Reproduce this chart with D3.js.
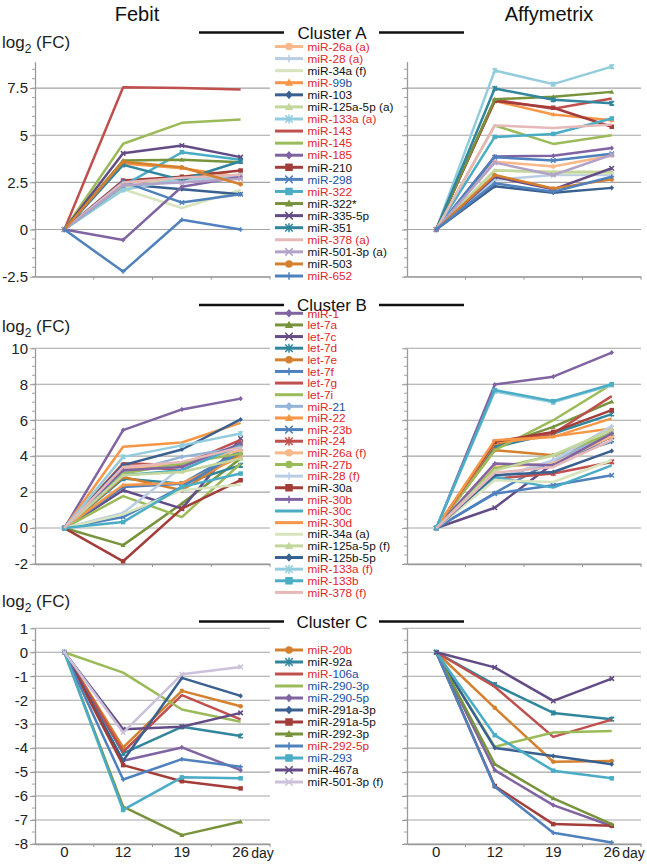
<!DOCTYPE html>
<html><head><meta charset="utf-8">
<script src="https://cdn.jsdelivr.net/npm/d3@7"></script>
<style>body{margin:0;background:#fff} svg{display:block;font-family:Arial,"Liberation Sans",sans-serif}</style>
</head><body><svg id="c" width="647" height="864"></svg>
<script>
// ---------------- DATA ----------------
const days = ["0", "12", "19", "26"];
const ticksA = [-2.5, 0, 2.5, 5, 7.5];
const ticksB = [-2, 0, 2, 4, 6, 8, 10];
const ticksC = [-8, -7, -6, -5, -4, -3, -2, -1, 0, 1];

const namesA = ["miR-26a (a)", "miR-28 (a)", "miR-34a (f)", "miR-99b", "miR-103", "miR-125a-5p (a)", "miR-133a (a)", "miR-143", "miR-145", "miR-185", "miR-210", "miR-298", "miR-322", "miR-322*", "miR-335-5p", "miR-351", "miR-378 (a)", "miR-501-3p (a)", "miR-503", "miR-652"];
const febitA = [
  [0, 2.45, 2.8, 2.8], [0, 2.3, 2.6, 2.75], [0, 2.14, 1.14, 2.1], [0, 3.5, 3.25, 2.8],
  [0, 2.4, 2.14, 1.87], [0, 2.25, 2.7, 2.9], [0, 2.1, 2.7, 2.85], [0, 7.55, 7.5, 7.43],
  [0, 4.55, 5.66, 5.84], [0, -0.55, 2.27, 2.8], [0, 2.6, 2.8, 3.13], [0, 2.54, 1.43, 1.87],
  [0, 2.32, 4.1, 3.7], [0, 3.66, 3.7, 3.57], [0, 4.04, 4.46, 3.84], [0, 3.43, 2.63, 3.62],
  [0, 2.5, 2.75, 2.9], [0, 2.35, 2.5, 2.7], [0, 3.6, 3.3, 2.4], [0, -2.23, 0.52, 0]
];
const affyA = [
  [0, 3.6, 3.34, 3.93], [0, 2.63, 2.89, 2.89], [0, 3.16, 2.98, 2.98], [0, 6.82, 6.1, 5.79],
  [0, 2.3, 1.95, 2.21], [0, 3.13, 3.07, 3.07], [0, 8.43, 7.71, 8.64], [0, 6.88, 6.41, 6.95],
  [0, 5.52, 4.54, 5.0], [0, 3.88, 3.91, 4.32], [0, 6.82, 6.46, 5.45], [0, 3.84, 3.66, 4.02],
  [0, 4.91, 5.07, 5.89], [0, 6.91, 7.04, 7.3], [0, 2.8, 2.13, 3.25], [0, 7.48, 6.88, 6.7],
  [0, 5.52, 5.39, 5.57], [0, 3.55, 2.89, 3.96], [0, 2.89, 2.18, 2.66], [0, 2.45, 2.0, 2.8]
];

const namesB = ["miR-1", "let-7a", "let-7c", "let-7d", "let-7e", "let-7f", "let-7g", "let-7i", "miR-21", "miR-22", "miR-23b", "miR-24", "miR-26a (f)", "miR-27b", "miR-28 (f)", "miR-30a", "miR-30b", "miR-30c", "miR-30d", "miR-34a (a)", "miR-125a-5p (f)", "miR-125b-5p", "miR-133a (f)", "miR-133b", "miR-378 (f)"];
const febitB = [
  [0, 5.45, 6.6, 7.2], [0, -0.95, 1.36, 3.87], [0, 2.1, 1.08, 4.98], [0, 2.75, 2.47, 3.49],
  [0, 2.84, 2.1, 4.14], [0, 2.29, 2.47, 4.33], [0, 3.6, 3.5, 4.9], [0, 1.78, 0.61, 3.59],
  [0, 3.07, 3.96, 4.5], [0, 2.4, 2.5, 3.95], [0, 0.61, 2.29, 4.24], [0, 3.5, 3.22, 4.7],
  [0, 3.3, 3.59, 4.33], [0, 3.03, 3.59, 4.14], [0, 0.84, 3.4, 4.5], [0, -1.85, 1.08, 2.66],
  [0, 3.22, 3.4, 4.7], [0, 2.94, 3.22, 4.6], [0, 4.52, 4.76, 5.85], [0, 0.76, 2.1, 2.42],
  [0, 2.94, 3.12, 3.87], [0, 3.5, 4.37, 6.04], [0, 3.96, 4.6, 5.26], [0, 0.33, 2.29, 3.03],
  [0, 3.4, 3.68, 4.5]
];
const affyB = [
  [0, 7.98, 8.42, 9.76], [0, 4.52, 5.63, 7.03], [0, 1.13, 3.59, 5.07], [0, 4.5, 5.26, 6.34],
  [0, 4.33, 4.05, 5.07], [0, 1.95, 3.77, 4.8], [0, 4.7, 5.26, 7.34], [0, 4.33, 6.0, 8.0],
  [0, 2.75, 3.68, 5.35], [0, 4.75, 5.1, 5.54], [0, 1.91, 2.38, 2.94], [0, 2.75, 3.03, 3.68],
  [0, 3.4, 3.59, 5.1], [0, 3.3, 4.05, 5.26], [0, 2.75, 3.77, 5.67], [0, 4.8, 5.35, 6.56],
  [0, 3.59, 3.49, 5.26], [0, 2.84, 2.25, 3.49], [0, 4.89, 5.07, 6.1], [0, 2.66, 2.56, 3.77],
  [0, 3.2, 4.05, 5.48], [0, 2.94, 3.12, 4.29], [0, 7.6, 7.0, 7.95], [0, 7.68, 7.06, 8.0],
  [0, 3.07, 3.4, 4.89]
];

const namesC = ["miR-20b", "miR-92a", "miR-106a", "miR-290-3p", "miR-290-5p", "miR-291a-3p", "miR-291a-5p", "miR-292-3p", "miR-292-5p", "miR-293", "miR-467a", "miR-501-3p (f)"];
const febitC = [
  [0, -3.97, -1.61, -2.25], [0, -4.22, -3.11, -3.49], [0, -4.15, -1.79, -2.8], [0, -0.85, -2.39, -2.9],
  [0, -4.53, -3.97, -4.92], [0, -4.53, -1.07, -1.82], [0, -4.71, -5.38, -5.68], [0, -6.44, -7.63, -7.07],
  [0, -5.31, -4.46, -4.78], [0, -6.58, -5.22, -5.26], [0, -3.21, -3.11, -2.53], [0, -3.35, -0.92, -0.61]
];
const affyC = [
  [0, -2.32, -4.57, -4.54], [0, -1.35, -2.53, -2.79], [0, -1.44, -3.53, -2.81], [0, -3.94, -3.35, -3.28],
  [0, -4.92, -6.38, -7.25], [0, -3.99, -4.33, -4.67], [0, -5.58, -7.17, -7.24], [0, -4.67, -6.1, -7.17],
  [0, -5.61, -7.53, -7.94], [0, -3.46, -4.94, -5.26], [0, -0.63, -2.03, -1.1], [null, null, null, null]
];

// ---------------- STYLES ----------------
const C = {
  blue: "#4F81BD", dblue: "#3A6090", lblue: "#95B3D7", pblue: "#B9CDE5",
  red: "#C0504D", dred: "#A33D3A",
  green: "#9BBB59", dgreen: "#77933C", lgreen: "#C3D69B", pgreen: "#D7E4BD",
  purple: "#8064A2", dpurple: "#634C86", lpurple: "#B3A2C7", ppurple: "#CCC1DA",
  aqua: "#4BACC6", teal: "#31859C", laqua: "#93CDDD",
  orange: "#F79646", brown: "#D4802F", peach: "#F9B88A", pink: "#E6B9B8"
};
const seriesStyle = {
  "miR-26a (a)": [C.peach, "circle"], "miR-28 (a)": [C.pblue, "plus"], "miR-34a (f)": [C.pgreen, null],
  "miR-99b": [C.orange, "triangle"], "miR-103": [C.dblue, "diamond"], "miR-125a-5p (a)": [C.lgreen, "triangle"],
  "miR-133a (a)": [C.laqua, "asterisk"], "miR-143": [C.red, null], "miR-145": [C.green, null],
  "miR-185": [C.purple, "diamond"], "miR-210": [C.dred, "square"], "miR-298": [C.blue, "x"],
  "miR-322": [C.aqua, "square"], "miR-322*": [C.dgreen, "triangle"], "miR-335-5p": [C.dpurple, "x"],
  "miR-351": [C.teal, "asterisk"], "miR-378 (a)": [C.pink, null], "miR-501-3p (a)": [C.lpurple, "x"],
  "miR-503": [C.brown, "circle"], "miR-652": [C.blue, "plus"],
  "miR-1": [C.purple, "diamond"], "let-7a": [C.dgreen, "triangle"], "let-7c": [C.dpurple, "x"],
  "let-7d": [C.teal, "asterisk"], "let-7e": [C.brown, "circle"], "let-7f": [C.blue, "plus"],
  "let-7g": [C.red, null], "let-7i": [C.green, null], "miR-21": [C.lblue, "diamond"],
  "miR-22": [C.orange, "triangle"], "miR-23b": [C.blue, "x"], "miR-24": [C.red, "asterisk"],
  "miR-26a (f)": [C.peach, "circle"], "miR-27b": [C.green, "circle"], "miR-28 (f)": [C.pblue, "plus"],
  "miR-30a": [C.dred, "square"], "miR-30b": [C.purple, "plus"], "miR-30c": [C.aqua, null],
  "miR-30d": [C.orange, null], "miR-34a (a)": [C.pgreen, null], "miR-125a-5p (f)": [C.lgreen, "triangle"],
  "miR-125b-5p": [C.dblue, "diamond"], "miR-133a (f)": [C.laqua, "asterisk"], "miR-133b": [C.aqua, "square"],
  "miR-378 (f)": [C.pink, null],
  "miR-20b": [C.brown, "circle"], "miR-92a": [C.teal, "asterisk"], "miR-106a": [C.red, null],
  "miR-290-3p": [C.green, null], "miR-290-5p": [C.purple, "diamond"], "miR-291a-3p": [C.dblue, "diamond"],
  "miR-291a-5p": [C.dred, "square"], "miR-292-3p": [C.dgreen, "triangle"], "miR-292-5p": [C.blue, "plus"],
  "miR-293": [C.aqua, "square"], "miR-467a": [C.dpurple, "x"], "miR-501-3p (f)": [C.ppurple, "x"]
};
// legend text colour: r = red, k = black, b = blue, rb = "miR-" red + rest blue
const labelTone = {
  "miR-26a (a)": "r", "miR-28 (a)": "r", "miR-34a (f)": "k", "miR-99b": "rb", "miR-103": "k",
  "miR-125a-5p (a)": "k", "miR-133a (a)": "r", "miR-143": "r", "miR-145": "r", "miR-185": "r",
  "miR-210": "k", "miR-298": "b", "miR-322": "r", "miR-322*": "k", "miR-335-5p": "k", "miR-351": "k",
  "miR-378 (a)": "r", "miR-501-3p (a)": "k", "miR-503": "k", "miR-652": "r",
  "miR-1": "r", "let-7a": "r", "let-7c": "r", "let-7d": "r", "let-7e": "r", "let-7f": "r", "let-7g": "r",
  "let-7i": "r", "miR-21": "rb", "miR-22": "r", "miR-23b": "r", "miR-24": "r", "miR-26a (f)": "r",
  "miR-27b": "r", "miR-28 (f)": "r", "miR-30a": "k", "miR-30b": "r", "miR-30c": "r", "miR-30d": "r",
  "miR-34a (a)": "k", "miR-125a-5p (f)": "k", "miR-125b-5p": "k", "miR-133a (f)": "r", "miR-133b": "r",
  "miR-378 (f)": "r",
  "miR-20b": "r", "miR-92a": "k", "miR-106a": "rb", "miR-290-3p": "b", "miR-290-5p": "b",
  "miR-291a-3p": "k", "miR-291a-5p": "k", "miR-292-3p": "k", "miR-292-5p": "r", "miR-293": "b",
  "miR-467a": "k", "miR-501-3p (f)": "k"
};
const TONE = { r: "#E0262B", b: "#2050A0", k: "#111" };

// ---------------- DRAW ----------------
const svg = d3.select("#c");
const FONT = "Arial, 'Liberation Sans', sans-serif";

function marker(g, type, x, y, s, color) {
  if (!type) return;
  const h = s / 2;
  if (type === "circle") g.append("circle").attr("cx", x).attr("cy", y).attr("r", h).attr("fill", color);
  else if (type === "square") g.append("rect").attr("x", x - h).attr("y", y - h).attr("width", s).attr("height", s).attr("fill", color);
  else if (type === "diamond") g.append("path").attr("d", `M${x},${y - h * 1.15}L${x + h},${y}L${x},${y + h * 1.15}L${x - h},${y}Z`).attr("fill", color);
  else if (type === "triangle") g.append("path").attr("d", `M${x},${y - h * 1.1}L${x + h * 1.1},${y + h * 0.8}L${x - h * 1.1},${y + h * 0.8}Z`).attr("fill", color);
  else {
    let d = "";
    if (type === "x" || type === "asterisk") d += `M${x - h},${y - h}L${x + h},${y + h}M${x - h},${y + h}L${x + h},${y - h}`;
    if (type === "plus") d += `M${x - h},${y}L${x + h},${y}M${x},${y - h}L${x},${y + h}`;
    if (type === "asterisk") d += `M${x},${y - h * 1.2}L${x},${y + h * 1.2}`;
    g.append("path").attr("d", d).attr("stroke", color).attr("stroke-width", 1.5).attr("fill", "none");
  }
}

function panel(cfg) {
  const x = d3.scaleBand().domain(days).range([cfg.x0, cfg.x1]);
  const y = d3.scaleLinear().domain(cfg.domain).range([cfg.yb, cfg.yt]);
  const g = svg.append("g");
  g.selectAll("line.grid").data(cfg.ticks).join("line")
    .attr("x1", cfg.x0).attr("x2", cfg.x1).attr("y1", d => y(d)).attr("y2", d => y(d))
    .attr("stroke", "#a5a5a5").attr("stroke-width", 1.1);
  const minors = d3.range(Math.ceil(cfg.domain[0] / cfg.minor) * cfg.minor, cfg.domain[1] + 1e-9, cfg.minor);
  g.selectAll("line.minor").data(minors).join("line")
    .attr("x1", cfg.x0 - 3).attr("x2", cfg.x0).attr("y1", d => y(d)).attr("y2", d => y(d))
    .attr("stroke", "#a5a5a5").attr("stroke-width", 1);
  const ax = d3.axisLeft(y).tickValues(cfg.ticks).tickSize(5).tickSizeOuter(0).tickPadding(2)
    .tickFormat(cfg.labels ? d => String(d) : () => "");
  const ag = g.append("g").attr("transform", `translate(${cfg.x0},0)`).call(ax);
  ag.select(".domain").attr("stroke", "#9a9a9a").attr("stroke-width", 1.3);
  ag.selectAll(".tick line").attr("stroke", "#9a9a9a");
  ag.selectAll(".tick text").attr("font-size", 15).attr("font-family", FONT).attr("fill", "#222");
  const xa = d3.axisBottom(x).tickSize(0).tickSizeOuter(0).tickPadding(2)
    .tickFormat(cfg.showDays ? d => d : () => "");
  const xg = g.append("g").attr("transform", `translate(0,${cfg.yb})`).call(xa);
  xg.select(".domain").attr("stroke", "#9a9a9a").attr("stroke-width", 1.3);
  xg.selectAll(".tick text").attr("font-size", 15).attr("font-family", FONT).attr("fill", "#222");
  const bounds = days.map(d => x(d)).concat([cfg.x1]).slice(1);
  g.selectAll("line.xb").data(bounds).join("line")
    .attr("x1", d => d).attr("x2", d => d).attr("y1", cfg.yb).attr("y2", cfg.yb + 3)
    .attr("stroke", "#9a9a9a");
  if (cfg.showDays) {
    g.append("text").attr("x", x(days[3]) + x.bandwidth() / 2 + 10.5).attr("y", cfg.yb + 14)
      .attr("font-size", 14).attr("font-family", FONT).attr("fill", "#222").text("day");
  }
  const line = d3.line().defined(d => d != null)
    .x((d, i) => x(days[i]) + x.bandwidth() / 2).y(d => y(d));
  cfg.names.forEach((nm, k) => {
    const vals = cfg.values[k];
    const [col, mk] = seriesStyle[nm];
    const sg = g.append("g");
    sg.append("path").attr("d", line(vals)).attr("fill", "none").attr("stroke", col)
      .attr("stroke-width", 2.5).attr("stroke-linejoin", "round");
    vals.forEach((v, i) => { if (v != null) marker(sg, mk, x(days[i]) + x.bandwidth() / 2, y(v), 4.5, col); });
  });
  if (cfg.labels) {
    const t = svg.append("text").attr("x", 2).attr("y", cfg.labelY).attr("font-size", 17)
      .attr("font-family", FONT).attr("fill", "#222");
    t.append("tspan").text("log");
    t.append("tspan").attr("font-size", 12).attr("dy", 5).text("2");
    t.append("tspan").attr("dy", -5).text(" (FC)");
  }
}

function legend(names, y0, step) {
  const g = svg.append("g");
  names.forEach((nm, i) => {
    const cy = y0 + i * step;
    const [col, mk] = seriesStyle[nm];
    g.append("line").attr("x1", 275).attr("x2", 303).attr("y1", cy).attr("y2", cy)
      .attr("stroke", col).attr("stroke-width", 3);
    marker(g, mk, 289, cy, 7.5, col);
    const t = g.append("text").attr("x", 307.5).attr("y", cy + 4.2).attr("font-size", 11.8)
      .attr("font-family", FONT);
    const tone = labelTone[nm];
    if (tone === "rb") {
      t.append("tspan").attr("fill", TONE.r).text("miR-");
      t.append("tspan").attr("fill", TONE.b).text(nm.slice(4));
    } else t.append("tspan").attr("fill", TONE[tone]).text(nm);
  });
}

function clusterHeader(label, yc) {
  svg.append("line").attr("x1", 199).attr("x2", 284).attr("y1", yc).attr("y2", yc).attr("stroke", "#111").attr("stroke-width", 2.5);
  svg.append("line").attr("x1", 379).attr("x2", 464).attr("y1", yc).attr("y2", yc).attr("stroke", "#111").attr("stroke-width", 2.5);
  svg.append("text").attr("x", 332).attr("y", yc + 6).attr("text-anchor", "middle").attr("font-size", 17)
    .attr("font-family", FONT).attr("fill", "#111").text(label);
}

svg.append("text").attr("x", 137).attr("y", 21).attr("text-anchor", "middle").attr("font-size", 20)
  .attr("font-family", FONT).attr("fill", "#111").text("Febit");
svg.append("text").attr("x", 549).attr("y", 21).attr("text-anchor", "middle").attr("font-size", 20)
  .attr("font-family", FONT).attr("fill", "#111").text("Affymetrix");

clusterHeader("Cluster A", 32.5);
clusterHeader("Cluster B", 305);
clusterHeader("Cluster C", 621.5);

const L = { x0: 35, x1: 270 }, R = { x0: 407, x1: 641 };
const A = { domain: [-2.5, 8.9], yb: 276.7, yt: 61.7, ticks: ticksA, minor: 0.5, names: namesA, labelY: 48 };
const B = { domain: [-2, 10], yb: 564, yt: 348.3, ticks: ticksB, minor: 0.5, names: namesB, labelY: 332 };
const Cc = { domain: [-8, 1], yb: 844, yt: 628.3, ticks: ticksC, minor: 0.5, names: namesC, labelY: 607 };

panel({ ...A, ...L, values: febitA, labels: true, showDays: false });
panel({ ...A, ...R, values: affyA, labels: false, showDays: false });
panel({ ...B, ...L, values: febitB, labels: true, showDays: false });
panel({ ...B, ...R, values: affyB, labels: false, showDays: false });
panel({ ...Cc, ...L, values: febitC, labels: true, showDays: true });
panel({ ...Cc, ...R, values: affyC, labels: false, showDays: true });

legend(namesA, 46.5, 12.08);
legend(namesB, 313.3, 11.63);
legend(namesC, 650, 12.0);
</script>
</body></html>
